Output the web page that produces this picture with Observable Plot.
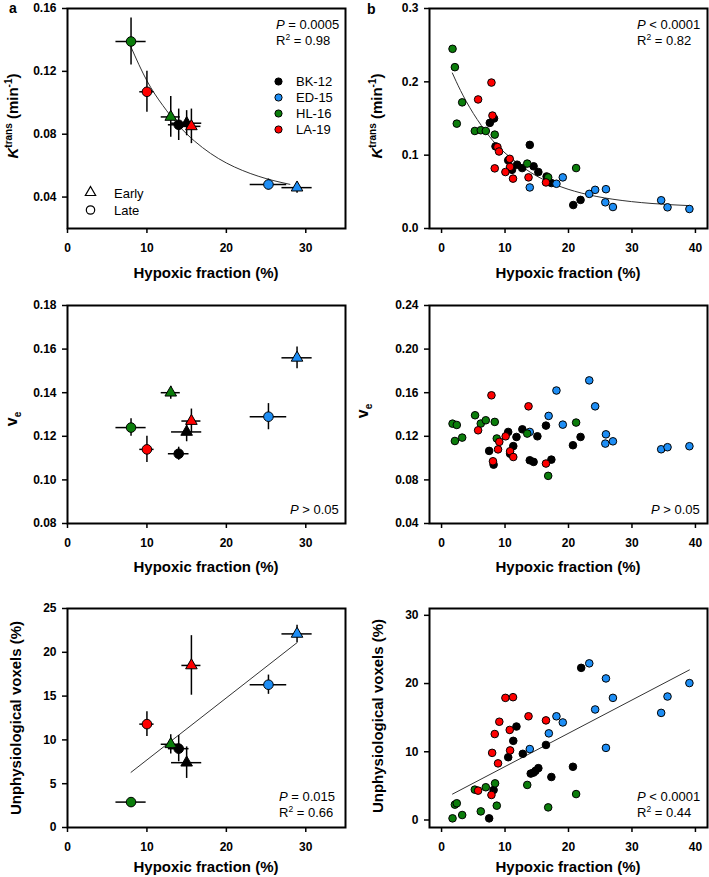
<!DOCTYPE html>
<html><head><meta charset="utf-8">
<script src="https://cdn.jsdelivr.net/npm/d3@7"></script>
<script src="https://cdn.jsdelivr.net/npm/@observablehq/plot@0.6"></script>
<style>
body{margin:0;background:#fff;}
#fig{position:relative;width:709px;height:877px;background:#fff;}
</style></head><body><div id="fig"></div>
<script>
// ---------- groups ----------
const groups = ["BK-12", "ED-15", "HL-16", "LA-19"];
const groupColors = ["#000000", "#1e8ef5", "#0b7d0b", "#ff0000"];
const timeLabels = ["Early", "Late"];

// ---------- panel a (group means) ----------
const aGroup = ["HL-16", "LA-19", "HL-16", "BK-12", "BK-12", "LA-19", "ED-15", "ED-15"];
const aTime  = ["Late", "Late", "Early", "Late", "Early", "Early", "Late", "Early"];
const aHF    = [8.0, 10.0, 13.0, 14.0, 15.0, 15.6, 25.3, 28.9];
const aHFerr = [1.9, 0.9, 1.2, 1.3, 1.9, 1.2, 2.3, 1.9];
const aKtrans    = [0.139, 0.107, 0.091, 0.086, 0.087, 0.085, 0.048, 0.046];
const aKtransErr = [0.015, 0.013, 0.013, 0.010, 0.008, 0.011, 0.0035, 0.0035];
const aVe    = [0.124, 0.114, 0.140, 0.112, 0.122, 0.127, 0.129, 0.156];
const aVeErr = [0.004, 0.006, 0.003, 0.003, 0.0045, 0.0055, 0.006, 0.005];
const aUnphys    = [2.9, 11.8, 9.5, 9.0, 7.4, 18.5, 16.3, 22.1];
const aUnphysErr = [0.3, 1.4, 1.1, 1.5, 1.8, 3.4, 1.1, 1.0];

// fitted curves
const ktransFitA_hf = [8, 10, 12, 14, 16, 18, 20, 22, 24, 26, 28];
const ktransFitA    = [0.1354, 0.1140, 0.0983, 0.0855, 0.0756, 0.0678, 0.0617, 0.0570, 0.0533, 0.0504, 0.0481];
const unphysFitA_hf = [8.0, 28.9];
const unphysFitA    = [6.3, 21.1];

// ---------- panel b (individual tumours) ----------
// Ktrans
const ktransBK_hf = [7.6, 8.27, 8.5, 10.5, 11.1, 11.9, 12.7, 13.9, 14.5, 15.25, 16.55, 17.3, 20.75, 21.9];
const ktransBK    = [0.144, 0.150, 0.112, 0.093, 0.080, 0.087, 0.0824, 0.114, 0.0848, 0.077, 0.071, 0.062, 0.032, 0.039];
const ktransED_hf = [13.9, 18.1, 19.1, 23.27, 24.2, 25.9, 25.8, 27.0, 34.6, 35.6, 39.05];
const ktransED    = [0.056, 0.061, 0.0697, 0.0472, 0.0527, 0.0536, 0.0357, 0.0293, 0.0385, 0.0289, 0.0266];
const ktransHL_hf = [1.73, 2.1, 2.4, 3.25, 5.24, 6.18, 6.97, 8.38, 13.5, 16.8, 21.2];
const ktransHL    = [0.245, 0.220, 0.143, 0.172, 0.133, 0.134, 0.133, 0.128, 0.0885, 0.0697, 0.0824];
const ktransLA_hf = [7.86, 5.76, 8.02, 8.8, 9.06, 8.38, 10.74, 10.79, 10.06, 11.26, 13.7, 16.45];
const ktransLA    = [0.199, 0.176, 0.154, 0.111, 0.105, 0.082, 0.095, 0.084, 0.077, 0.068, 0.0697, 0.0628];
const ktransFitB_hf = [1.7, 3, 5, 7.5, 10, 14, 18, 22, 27, 33, 39];
const ktransFitB    = [0.212, 0.188, 0.157, 0.126, 0.103, 0.0766, 0.0595, 0.0484, 0.0399, 0.0342, 0.0312];

// ve
const veBK_hf = [16.45, 12.73, 10.5, 15.1, 11.8, 11.3, 7.5, 10.8, 13.9, 14.5, 17.3, 8.2, 20.7, 21.9];
const veBK    = [0.1298, 0.1264, 0.124, 0.120, 0.1194, 0.111, 0.1066, 0.104, 0.098, 0.0965, 0.0986, 0.094, 0.1118, 0.1194];
const veED_hf = [13.9, 16.87, 18.1, 19.1, 23.27, 24.2, 25.9, 25.8, 27.0, 34.6, 35.6, 39.05];
const veED    = [0.124, 0.1387, 0.162, 0.1307, 0.1713, 0.1475, 0.1218, 0.1133, 0.1154, 0.1081, 0.110, 0.1109];
const veHL_hf = [1.73, 2.1, 2.4, 3.25, 5.28, 6.18, 6.97, 8.38, 8.7, 13.5, 16.8, 21.2];
const veHL    = [0.1316, 0.1157, 0.1304, 0.1188, 0.1393, 0.1317, 0.1347, 0.1332, 0.118, 0.1225, 0.0837, 0.1326];
const veLA_hf = [7.86, 13.7, 5.76, 10.1, 9.1, 8.9, 10.8, 11.3, 16.45, 8.1];
const veLA    = [0.1576, 0.1475, 0.1255, 0.120, 0.1149, 0.108, 0.1063, 0.101, 0.095, 0.0971];

// unphysiological voxels
const unphysBK_hf = [11.8, 11.3, 16.45, 10.5, 12.8, 20.7, 14.05, 14.5, 14.8, 15.25, 17.3, 8.2, 7.5, 22.0];
const unphysBK    = [13.7, 11.6, 11.0, 9.2, 9.7, 7.8, 6.8, 6.95, 7.2, 7.6, 6.3, 4.4, 0.24, 22.3];
const unphysED_hf = [13.9, 16.9, 18.1, 19.1, 23.27, 24.2, 25.9, 25.9, 27.0, 34.6, 35.6, 39.05];
const unphysED    = [10.4, 12.7, 15.2, 14.3, 22.96, 16.2, 20.75, 10.57, 17.9, 15.7, 18.1, 20.07];
const unphysHL_hf = [1.73, 2.1, 2.4, 3.25, 5.24, 6.18, 6.97, 8.43, 8.7, 13.5, 16.8, 21.2];
const unphysHL    = [0.24, 2.25, 2.45, 0.73, 4.45, 1.26, 4.8, 5.37, 2.1, 5.14, 1.85, 3.8];
const unphysLA_hf = [10.06, 11.26, 13.7, 9.1, 16.45, 10.74, 8.38, 7.97, 10.8, 8.9, 5.76, 7.86];
const unphysLA    = [17.9, 18.0, 15.2, 14.4, 14.6, 13.2, 12.6, 9.84, 10.2, 8.3, 4.3, 3.67];
const unphysFitB_hf = [1.73, 39.05];
const unphysFitB    = [3.8, 22.0];

// ---------- axis ticks & labels ----------
const aXTicks = [0, 10, 20, 30];
const bXTicks = [0, 10, 20, 30, 40];
const aKtransTicks = [0.04, 0.08, 0.12, 0.16];
const bKtransTicks = [0.0, 0.1, 0.2, 0.3];
const aVeTicks = [0.08, 0.10, 0.12, 0.14, 0.16, 0.18];
const bVeTicks = [0.04, 0.08, 0.12, 0.16, 0.20, 0.24];
const aUnphysTicks = [0, 5, 10, 15, 20, 25];
const bUnphysTicks = [0, 10, 20, 30];
const xTitle = "Hypoxic fraction (%)";
const unphysTitle = "Unphysiological voxels (%)";
const panelLetters = ["a", "b"];
const statsKtransA = ["0.0005", "0.98"];
const statsKtransB = ["0.0001", "0.82"];
const statsUnphysA = ["0.015", "0.66"];
const statsUnphysB = ["0.0001", "0.44"];
const statsNS = "0.05";

// ---------- helpers ----------
const FONT = '"Liberation Sans", Arial, Helvetica, sans-serif';
const fig = document.getElementById("fig");

function pairRows(xs, ys) { return xs.map((x, i) => ({x, y: ys[i]})); }
function groupRows(list) {
  return list.flatMap(([g, xs, ys]) => xs.map((x, i) => ({x, y: ys[i], group: g})));
}

function makePanel(s) {
  const svg = Plot.plot({
    width: s.w, height: s.h,
    marginTop: s.mt, marginRight: s.mr, marginBottom: s.mb, marginLeft: s.ml,
    x: {domain: s.xd},
    y: {domain: s.yd},
    color: {domain: groups, range: groupColors},
    style: {fontFamily: FONT, fontSize: "12px", fontWeight: "bold", color: "black", background: "transparent", overflow: "visible"},
    marks: [
      Plot.axisX(s.xt, {tickSize: 5, tickPadding: 10, strokeWidth: 1.5, label: null}),
      Plot.axisY(s.yt, {tickSize: 5, tickPadding: 6, strokeWidth: 1.5, tickFormat: s.yf, label: null}),
      ...s.marks,
      Plot.frame({stroke: "black", strokeWidth: 2})
    ]
  });
  svg.style.position = "absolute";
  svg.style.left = s.left + "px";
  svg.style.top = s.top + "px";
  fig.appendChild(svg);
}

function aMarks(val, err, fitX, fitY) {
  const rows = aHF.map((x, i) => ({x, xe: aHFerr[i], y: val[i], ye: err[i], group: aGroup[i], time: aTime[i]}));
  const m = [];
  if (fitX) m.push(Plot.line(pairRows(fitX, fitY), {x: "x", y: "y", stroke: "#333", strokeWidth: 1, curve: "natural"}));
  m.push(
    Plot.ruleY(rows, {y: "y", x1: d => d.x - d.xe, x2: d => d.x + d.xe, stroke: "black", strokeWidth: 1.5}),
    Plot.ruleX(rows, {x: "x", y1: d => d.y - d.ye, y2: d => d.y + d.ye, stroke: "black", strokeWidth: 1.5}),
    Plot.dot(rows.filter(d => d.time === "Late"), {x: "x", y: "y", r: 4.8, fill: "group", stroke: "black", strokeWidth: 1}),
    Plot.dot(rows.filter(d => d.time === "Early"), {x: "x", y: "y", r: 4.3, symbol: "triangle", fill: "group", stroke: "black", strokeWidth: 1})
  );
  return m;
}

function bMarks(rows, fitX, fitY, curve) {
  const m = [];
  if (fitX) m.push(Plot.line(pairRows(fitX, fitY), {x: "x", y: "y", stroke: "#333", strokeWidth: 1, curve}));
  m.push(Plot.dot(rows, {x: "x", y: "y", r: 3.8, fill: "group", stroke: "black", strokeWidth: 1}));
  return m;
}

// ---------- panels ----------
const A = {left: 0, w: 354, ml: 67, mr: 9, xd: [0, 35], xt: aXTicks};
const B = {left: 354, w: 355, ml: 75, mr: 2, xd: [-1.9, 41.9], xt: bXTicks};
const R1 = {top: 0, h: 290, mt: 8, mb: 62};
const R2 = {top: 290, h: 290, mt: 15, mb: 57};
const R3 = {top: 580, h: 297, mt: 28, mb: 50};

makePanel({...A, ...R1, yd: [0.02, 0.16], yt: aKtransTicks, yf: d3.format(".2f"),
  marks: aMarks(aKtrans, aKtransErr, ktransFitA_hf, ktransFitA)});
makePanel({...B, ...R1, yd: [0, 0.3], yt: bKtransTicks, yf: d3.format(".1f"),
  marks: bMarks(groupRows([["BK-12", ktransBK_hf, ktransBK], ["ED-15", ktransED_hf, ktransED], ["HL-16", ktransHL_hf, ktransHL], ["LA-19", ktransLA_hf, ktransLA]]), ktransFitB_hf, ktransFitB, "natural")});
makePanel({...A, ...R2, yd: [0.08, 0.18], yt: aVeTicks, yf: d3.format(".2f"),
  marks: aMarks(aVe, aVeErr)});
makePanel({...B, ...R2, yd: [0.04, 0.24], yt: bVeTicks, yf: d3.format(".2f"),
  marks: bMarks(groupRows([["BK-12", veBK_hf, veBK], ["ED-15", veED_hf, veED], ["HL-16", veHL_hf, veHL], ["LA-19", veLA_hf, veLA]]))});
makePanel({...A, ...R3, yd: [0, 25], yt: aUnphysTicks, yf: d3.format("d"),
  marks: aMarks(aUnphys, aUnphysErr, unphysFitA_hf, unphysFitA)});
makePanel({...B, ...R3, yd: [-1.1, 31], yt: bUnphysTicks, yf: d3.format("d"),
  marks: bMarks(groupRows([["BK-12", unphysBK_hf, unphysBK], ["ED-15", unphysED_hf, unphysED], ["HL-16", unphysHL_hf, unphysHL], ["LA-19", unphysLA_hf, unphysLA]]), unphysFitB_hf, unphysFitB, "linear")});

// ---------- overlay text ----------
const ov = d3.select("#fig").append("svg")
  .attr("width", 709).attr("height", 877)
  .style("position", "absolute").style("left", "0px").style("top", "0px")
  .style("pointer-events", "none").style("font-family", FONT);

function rich(x, y, parts, o = {}) {
  const t = ov.append("text")
    .attr("text-anchor", o.anchor || "start")
    .attr("font-size", o.size || 15)
    .attr("font-weight", o.weight || "bold")
    .attr("fill", "black");
  if (o.rotate) t.attr("transform", `translate(${x},${y}) rotate(-90)`);
  else t.attr("x", x).attr("y", y);
  parts.forEach(p => {
    const s = t.append("tspan").text(p.t);
    if (p.italic) s.attr("font-style", "italic");
    if (p.size) s.attr("font-size", p.size);
    if (p.dy) s.attr("dy", p.dy);
    if (p.weight) s.attr("font-weight", p.weight);
  });
  return t;
}

// panel letters
rich(9, 13, [{t: panelLetters[0]}], {size: 14});
rich(367, 14, [{t: panelLetters[1]}], {size: 14});

// x titles
[[206, 278], [568, 278], [206, 572], [568, 572], [206, 872], [568, 872]].forEach(([x, y]) =>
  rich(x, y, [{t: xTitle}], {anchor: "middle", size: 15}));

// y titles
const ktransParts = [{t: "K", italic: true}, {t: "trans", size: 10, dy: -6}, {t: " (min", dy: 6}, {t: "-1", size: 10, dy: -6}, {t: ")", dy: 6}];
rich(18, 116, ktransParts, {anchor: "middle", rotate: true, size: 15});
rich(382, 116, ktransParts, {anchor: "middle", rotate: true, size: 15});
const veParts = [{t: "v"}, {t: "e", size: 10, dy: 4}];
rich(17, 419, veParts, {anchor: "middle", rotate: true, size: 16});
rich(368, 411, veParts, {anchor: "middle", rotate: true, size: 16});
rich(21, 718, [{t: unphysTitle}], {anchor: "middle", rotate: true, size: 15});
rich(383, 716, [{t: unphysTitle}], {anchor: "middle", rotate: true, size: 15});

// statistics
function stats(x, y, op, p, r2) {
  rich(x, y, [{t: "P", italic: true}, {t: ` ${op} ${p}`}], {size: 13, weight: "normal"});
  if (r2) rich(x, y + 16, [{t: "R"}, {t: "2", size: 8.5, dy: -5}, {t: ` = ${r2}`, dy: 5}], {size: 13, weight: "normal"});
}
stats(276, 29, "=", statsKtransA[0], statsKtransA[1]);
stats(637, 28.5, "<", statsKtransB[0], statsKtransB[1]);
stats(290, 513.5, ">", statsNS);
stats(651, 513.5, ">", statsNS);
stats(279, 800.5, "=", statsUnphysA[0], statsUnphysA[1]);
stats(637, 800.5, "<", statsUnphysB[0], statsUnphysB[1]);

// group legend (panel a, top)
groups.forEach((g, i) => {
  const cy = 81.5 + i * 16;
  ov.append("circle").attr("cx", 278.5).attr("cy", cy).attr("r", 3.6)
    .attr("fill", groupColors[i]).attr("stroke", "black").attr("stroke-width", 1);
  rich(296, cy + 4.6, [{t: g}], {size: 13, weight: "normal"});
});
// time legend
ov.append("path").attr("d", d3.symbol(d3.symbolTriangle, 46)())
  .attr("transform", "translate(90.5,192.5)")
  .attr("fill", "white").attr("stroke", "black").attr("stroke-width", 1.2);
ov.append("circle").attr("cx", 90.5).attr("cy", 210).attr("r", 4.2)
  .attr("fill", "white").attr("stroke", "black").attr("stroke-width", 1.2);
rich(114, 197.5, [{t: timeLabels[0]}], {size: 13, weight: "normal"});
rich(114, 214.5, [{t: timeLabels[1]}], {size: 13, weight: "normal"});
</script>
</body></html>
